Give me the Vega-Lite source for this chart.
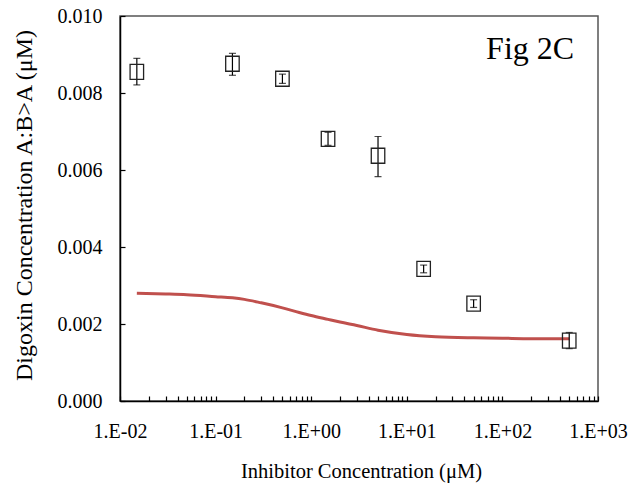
{
  "$schema": "https://vega.github.io/schema/vega-lite/v6.json",
  "width": 478,
  "height": 385,
  "autosize": {"type": "none"},
  "padding": {"left": 120, "top": 16, "right": 33, "bottom": 88},
  "background": "white",
  "config": {
    "view": {"stroke": "#555555", "strokeWidth": 1.5},
    "font": "Liberation Serif",
    "axis": {"grid": false, "domainColor": "#000000", "domainWidth": 1.5, "tickColor": "#000000", "tickWidth": 1.2, "labelFont": "Liberation Serif", "titleFont": "Liberation Serif", "labelColor": "#000000", "titleColor": "#000000", "titleFontWeight": "normal", "labelFontSize": 20, "titleFontSize": 20.5}
  },
  "datasets": {
    "obs": [
      {"conc": 0.015, "dig": 0.00855, "lo": 0.00821, "hi": 0.00890},
      {"conc": 0.15, "dig": 0.00876, "lo": 0.00846, "hi": 0.00903},
      {"conc": 0.5, "dig": 0.00837, "lo": 0.00825, "hi": 0.00849},
      {"conc": 1.5, "dig": 0.00681, "lo": 0.00664, "hi": 0.00698},
      {"conc": 5, "dig": 0.00637, "lo": 0.00583, "hi": 0.00687},
      {"conc": 15, "dig": 0.00343, "lo": 0.00333, "hi": 0.00353},
      {"conc": 50, "dig": 0.00253, "lo": 0.00243, "hi": 0.00263},
      {"conc": 500, "dig": 0.00157, "lo": 0.00136, "hi": 0.00178}
    ],
    "fit": [
      {"conc": 0.015, "dig": 0.00280},
      {"conc": 0.03, "dig": 0.00278},
      {"conc": 0.05, "dig": 0.00276},
      {"conc": 0.1, "dig": 0.00271},
      {"conc": 0.15, "dig": 0.00268},
      {"conc": 0.2, "dig": 0.00264},
      {"conc": 0.3, "dig": 0.00255},
      {"conc": 0.5, "dig": 0.00242},
      {"conc": 0.75, "dig": 0.00230},
      {"conc": 1, "dig": 0.00222},
      {"conc": 1.5, "dig": 0.00212},
      {"conc": 2, "dig": 0.00205},
      {"conc": 3, "dig": 0.00196},
      {"conc": 5, "dig": 0.00184},
      {"conc": 10, "dig": 0.00173},
      {"conc": 20, "dig": 0.00167},
      {"conc": 50, "dig": 0.00164},
      {"conc": 100, "dig": 0.00163},
      {"conc": 200, "dig": 0.00162},
      {"conc": 500, "dig": 0.00162}
    ],
    "note": [{"conc": 195, "dig": 0.00914, "label": "Fig 2C"}]
  },
  "layer": [
    {
      "data": {"name": "fit"},
      "mark": {"type": "line", "color": "#C0504D", "strokeWidth": 3, "interpolate": "monotone"},
      "encoding": {
        "x": {
          "field": "conc", "type": "quantitative",
          "scale": {"type": "log", "domain": [0.01, 1000], "nice": false},
          "axis": {
            "title": "Inhibitor Concentration (μM)",
            "values": [0.01,0.02,0.03,0.04,0.05,0.06,0.07,0.08,0.09,0.1,0.2,0.3,0.4,0.5,0.6,0.7,0.8,0.9,1,2,3,4,5,6,7,8,9,10,20,30,40,50,60,70,80,90,100,200,300,400,500,600,700,800,900,1000],
            "labelExpr": "abs(log(datum.value)/LN10 - round(log(datum.value)/LN10)) < 0.000001 ? ('1.E' + (round(log(datum.value)/LN10) < 0 ? '-' : '+') + (abs(round(log(datum.value)/LN10)) < 10 ? '0' : '') + abs(round(log(datum.value)/LN10))) : ''",
            "labelOverlap": false,
            "labelFlush": false,
            "tickSize": -5,
            "labelPadding": 25,
            "titleX": 241,
            "titleY": 70,
            "titleBaseline": "middle",
            "titleAlign": "center"
          }
        },
        "y": {
          "field": "dig", "type": "quantitative",
          "scale": {"domain": [0, 0.01], "nice": false, "zero": true},
          "axis": {
            "title": "Digoxin Concentration A:B>A (μM)",
            "titleFontSize": 24,
            "values": [0,0.0005,0.001,0.0015,0.002,0.0025,0.003,0.0035,0.004,0.0045,0.005,0.0055,0.006,0.0065,0.007,0.0075,0.008,0.0085,0.009,0.0095,0.01],
            "labelExpr": "abs(datum.value*500 - round(datum.value*500)) < 0.000001 ? format(datum.value, '.3f') : ''",
            "labelOverlap": false,
            "labelFlush": false,
            "tickSize": -5,
            "labelPadding": 23,
            "titleX": -96,
            "titleY": 189,
            "titleAngle": -90,
            "titleBaseline": "middle",
            "titleAlign": "center"
          }
        }
      }
    },
    {
      "data": {"name": "obs"},
      "mark": {"type": "rule", "color": "#000000", "strokeWidth": 1.2},
      "encoding": {
        "x": {"field": "conc", "type": "quantitative"},
        "y": {"field": "lo", "type": "quantitative"},
        "y2": {"field": "hi"}
      }
    },
    {
      "data": {"name": "obs"},
      "mark": {"type": "tick", "orient": "horizontal", "color": "#000000", "size": 7, "thickness": 1.2},
      "encoding": {
        "x": {"field": "conc", "type": "quantitative"},
        "y": {"field": "lo", "type": "quantitative"}
      }
    },
    {
      "data": {"name": "obs"},
      "mark": {"type": "tick", "orient": "horizontal", "color": "#000000", "size": 7, "thickness": 1.2},
      "encoding": {
        "x": {"field": "conc", "type": "quantitative"},
        "y": {"field": "hi", "type": "quantitative"}
      }
    },
    {
      "data": {"name": "obs"},
      "mark": {"type": "point", "shape": "M-0.9,-1H0.9V1H-0.9Z", "size": 225, "filled": false, "stroke": "#222222", "strokeWidth": 1.3, "opacity": 1},
      "encoding": {
        "x": {"field": "conc", "type": "quantitative"},
        "y": {"field": "dig", "type": "quantitative"}
      }
    },
    {
      "data": {"name": "note"},
      "mark": {"type": "text", "font": "Liberation Serif", "fontSize": 32, "color": "#000000", "align": "center", "baseline": "middle"},
      "encoding": {
        "x": {"field": "conc", "type": "quantitative"},
        "y": {"field": "dig", "type": "quantitative"},
        "text": {"field": "label"}
      }
    }
  ]
}
